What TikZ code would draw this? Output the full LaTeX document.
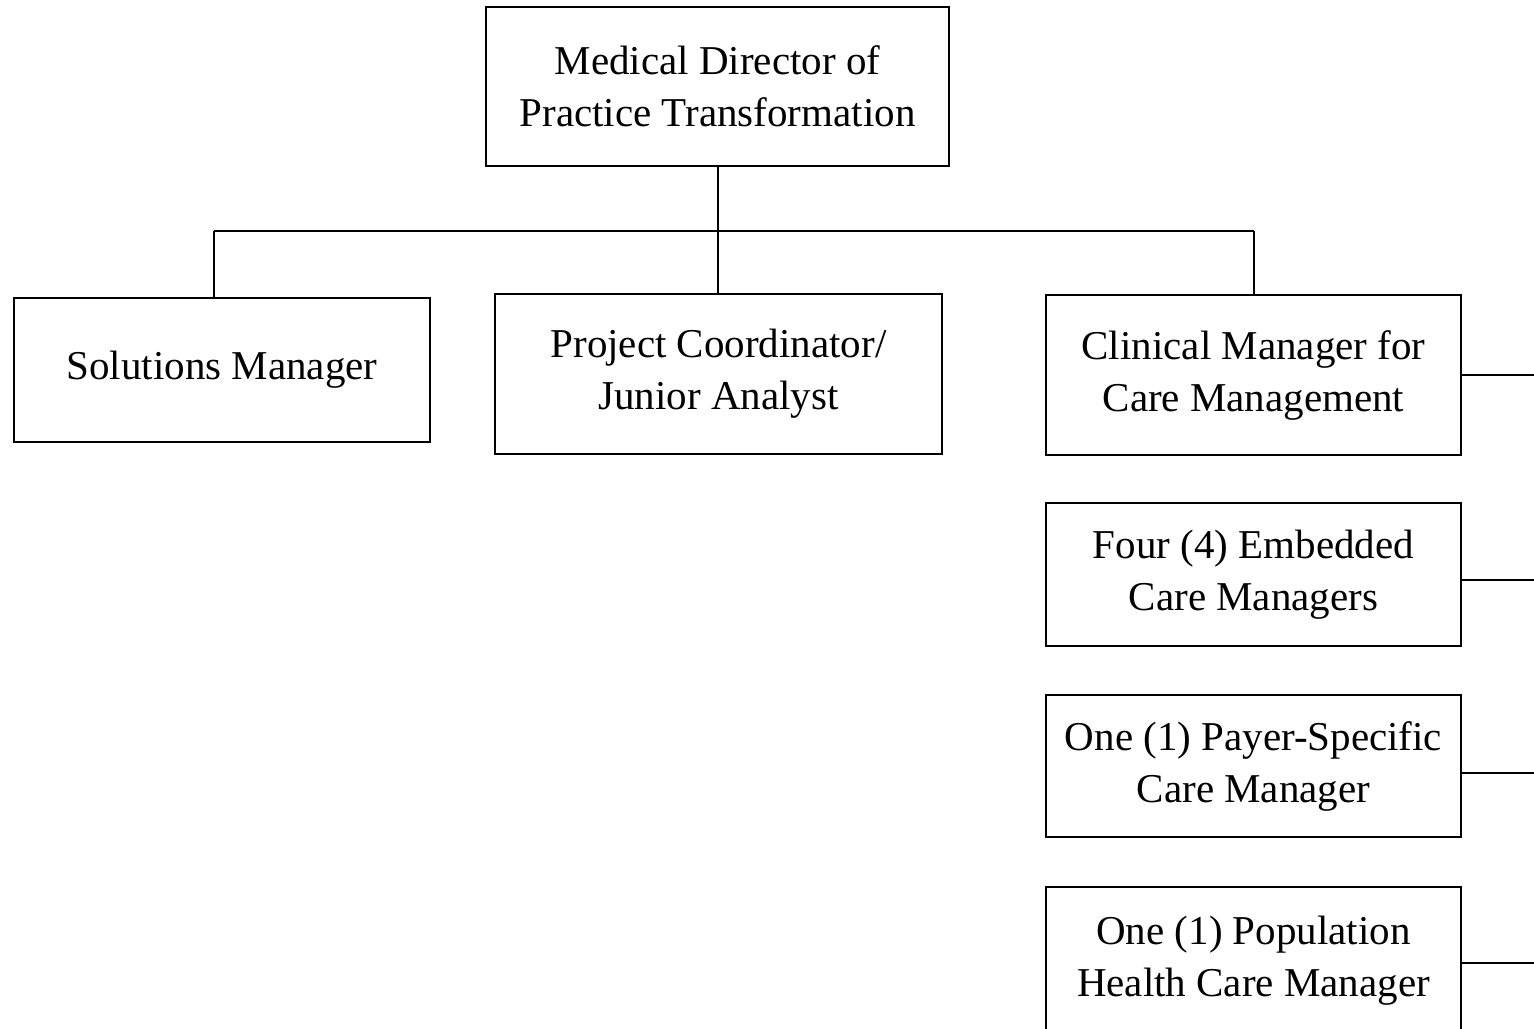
\documentclass[tikz,border=0pt]{standalone}
\usepackage{fontspec}
\setmainfont{Liberation Serif}
\usetikzlibrary{ positioning, % For easy node-relative placements
               }
\tikzstyle{role} = [rectangle, draw=black, line width=1pt, text centered, align=center,
                    font=\fontsize{20.5}{26}\selectfont, inner sep=0pt]
\tikzstyle{link} = [line width=1pt]

\begin{document}
\begin{tikzpicture}[x=0.5pt, y=-0.5pt]
  \useasboundingbox (0, 0) rectangle (1534, 1028);

  \node (n1) [role, minimum width=231.5pt, minimum height=79.5pt] at (717.5, 86.5) {Medical Director of\\Practice Transformation};

  \node (n2) [role, minimum width=208pt, minimum height=72pt] at (222, 370) {Solutions Manager};
  \node (n3) [role, minimum width=223.5pt, minimum height=80pt] at (718.5, 374) {Project Coordinator/\\Junior Analyst};
  \node (n4) [role, minimum width=207.5pt, minimum height=80pt] at (1253.5, 375) {Clinical Manager for\\Care Management};

  \node (n5) [role, minimum width=207.5pt, minimum height=71.5pt] at (1253.5, 574.5) {Four (4) Embedded\\Care Managers};
  \node (n6) [role, minimum width=207.5pt, minimum height=71pt] at (1253.5, 766) {One (1) Payer-Specific\\Care Manager};
  \node (n7) [role, minimum width=207.5pt, minimum height=74pt] at (1253.5, 961) {One (1) Population\\Health Care Manager};

  % bus below the director
  \coordinate (b1) at (214, 231);
  \draw [link] (n1.south) -- (n1.south |- n3.north);
  \draw [link] (b1) -- (b1 -| n4.north);
  \draw [link] (b1) -- (b1 |- n2.north);
  \draw [link] (b1 -| n4.north) -- (n4.north);

  % stubs running off the right edge
  \coordinate (e4) at (1534, 375);
  \coordinate (e5) at (1534, 580);
  \coordinate (e6) at (1534, 773);
  \coordinate (e7) at (1534, 963);
  \draw [link] (e4 -| n4.east) -- (e4);
  \draw [link] (e5 -| n5.east) -- (e5);
  \draw [link] (e6 -| n6.east) -- (e6);
  \draw [link] (e7 -| n7.east) -- (e7);
\end{tikzpicture}
\end{document}
